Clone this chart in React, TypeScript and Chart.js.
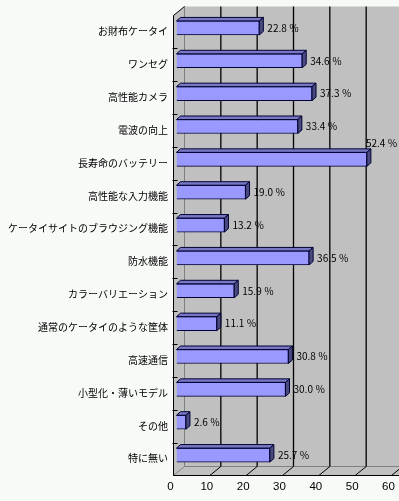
import React, { useEffect, useRef } from "react";
import { Chart, registerables } from "chart.js";

Chart.register(...registerables);

const categories = [
  "お財布ケータイ",
  "ワンセグ",
  "高性能カメラ",
  "電波の向上",
  "長寿命のバッテリー",
  "高性能な入力機能",
  "ケータイサイトのブラウジング機能",
  "防水機能",
  "カラーバリエーション",
  "通常のケータイのような筐体",
  "高速通信",
  "小型化・薄いモデル",
  "その他",
  "特に無い",
];
const values = [22.8, 34.6, 37.3, 33.4, 52.4, 19.0, 13.2, 36.5, 15.9, 11.1, 30.8, 30.0, 2.6, 25.7];
const xTicks = [0, 10, 20, 30, 40, 50, 60];

const BG = "#F7FAF7";
const WALL = "#C0C0C0";
const FRONT = { x: -3, y: 4 };
const BACK = { x: 8, y: -5 };
const BAR_D = { x: 4, y: -3.5 };
const LABEL_FONT = '10px "Noto Sans CJK JP", "Noto Sans", sans-serif';

const excel3d = {
  id: "excel3d",
  beforeDraw(chart: any) {
    const { ctx } = chart;
    ctx.save();
    ctx.fillStyle = BG;
    ctx.fillRect(0, 0, chart.width, chart.height);
    ctx.restore();
  },
  beforeDatasetsDraw(chart: any) {
    const { ctx, chartArea: ca, scales } = chart;
    const xs = scales.x;
    const R = chart.width + 2;
    const x0 = xs.getPixelForValue(0);
    const fx0 = x0 + FRONT.x, fTop = ca.top + FRONT.y, fBot = ca.bottom + FRONT.y;
    const bx0 = x0 + BACK.x, bTop = ca.top + BACK.y, bBot = ca.bottom + BACK.y;
    ctx.save();
    // back wall
    ctx.fillStyle = WALL;
    ctx.fillRect(bx0, bTop, R - bx0, bBot - bTop);
    // left wall
    ctx.beginPath();
    ctx.moveTo(fx0, fTop);
    ctx.lineTo(bx0, bTop);
    ctx.lineTo(bx0, bBot);
    ctx.lineTo(fx0, fBot);
    ctx.closePath();
    ctx.fill();
    // floor
    ctx.beginPath();
    ctx.moveTo(fx0, fBot);
    ctx.lineTo(R, fBot);
    ctx.lineTo(R, bBot);
    ctx.lineTo(bx0, bBot);
    ctx.closePath();
    ctx.fill();

    // inner edges
    ctx.strokeStyle = "#808080";
    ctx.lineWidth = 1;
    ctx.beginPath();
    ctx.moveTo(bx0, bTop);
    ctx.lineTo(bx0, bBot);
    ctx.lineTo(R, bBot);
    ctx.moveTo(bx0, bBot);
    ctx.lineTo(fx0, fBot);
    ctx.stroke();

    // gridlines on back wall and floor
    ctx.strokeStyle = "#000000";
    ctx.lineWidth = 1.3;
    xTicks.forEach((v) => {
      if (v === 0) return;
      const px = xs.getPixelForValue(v);
      ctx.beginPath();
      ctx.moveTo(px + BACK.x, bTop);
      ctx.lineTo(px + BACK.x, bBot);
      ctx.stroke();
    });
    ctx.lineWidth = 1;
    xTicks.forEach((v) => {
      if (v === 0) return;
      const px = xs.getPixelForValue(v);
      ctx.beginPath();
      ctx.moveTo(px + FRONT.x - 2, fBot);
      ctx.lineTo(px + FRONT.x, fBot);
      ctx.lineTo(px + BACK.x, bBot);
      ctx.stroke();
    });

    // outer edges
    ctx.strokeStyle = "#000000";
    ctx.beginPath();
    ctx.moveTo(bx0, bTop);
    ctx.lineTo(fx0, fTop);
    ctx.lineTo(fx0, fBot);
    ctx.lineTo(R, fBot);
    ctx.stroke();

    // category ticks on the left wall edge
    const n = categories.length;
    const band = (ca.bottom - ca.top) / n;
    ctx.beginPath();
    for (let i = 1; i < n; i++) {
      const y = Math.round(ca.top + band * i + FRONT.y) + 0.5;
      ctx.moveTo(fx0 - 1, y);
      ctx.lineTo(fx0 + 4, y);
    }
    ctx.stroke();
    ctx.restore();
  },
  afterDatasetsDraw(chart: any) {
    const { ctx } = chart;
    const meta = chart.getDatasetMeta(0);
    ctx.save();
    ctx.lineWidth = 1;
    ctx.strokeStyle = "#000033";
    meta.data.forEach((el: any, i: number) => {
      const p = el.getProps(["x", "y", "base", "height"], true);
      const left = Math.min(p.base, p.x);
      const right = Math.max(p.base, p.x);
      const top = p.y - p.height / 2;
      const bottom = p.y + p.height / 2;
      // top face
      ctx.fillStyle = "#7777C4";
      ctx.beginPath();
      ctx.moveTo(left, top);
      ctx.lineTo(right, top);
      ctx.lineTo(right + BAR_D.x, top + BAR_D.y);
      ctx.lineTo(left + BAR_D.x, top + BAR_D.y);
      ctx.closePath();
      ctx.fill();
      ctx.stroke();
      // side face
      ctx.fillStyle = "#4A4A80";
      ctx.beginPath();
      ctx.moveTo(right, top);
      ctx.lineTo(right + BAR_D.x, top + BAR_D.y);
      ctx.lineTo(right + BAR_D.x, bottom + BAR_D.y);
      ctx.lineTo(right, bottom);
      ctx.closePath();
      ctx.fill();
      ctx.stroke();

      // value label
      const text = values[i].toFixed(1) + " ％";
      ctx.font = LABEL_FONT;
      ctx.fillStyle = "#000000";
      ctx.textBaseline = "middle";
      ctx.textAlign = "left";
      const w = ctx.measureText(text).width;
      let lx = right + BAR_D.x + 4;
      let ly = p.y;
      if (lx + w > chart.width - 1) {
        lx = right - 1;
        ly = top + BAR_D.y - 6;
      }
      ctx.fillText(text, lx, ly);
    });
    ctx.restore();
  },
};

export default function App() {
  const ref = useRef<HTMLCanvasElement | null>(null);
  useEffect(() => {
    document.body.style.margin = "0";
    document.body.style.background = BG;
    const canvas = ref.current;
    if (!canvas) return;
    const chart = new Chart(canvas, {
      type: "bar",
      data: {
        labels: categories,
        datasets: [
          {
            data: values,
            backgroundColor: "#9999FF",
            borderColor: "#000033",
            borderWidth: 1,
            barThickness: 14,
          },
        ],
      },
      options: {
        indexAxis: "y",
        responsive: false,
        devicePixelRatio: 1,
        animation: false,
        layout: { padding: { top: 11.5, right: 4.5, bottom: 0, left: 0 } },
        plugins: {
          legend: { display: false },
          tooltip: { enabled: false },
        },
        scales: {
          x: {
            type: "linear",
            min: 0,
            max: 60,
            grid: { display: false, drawTicks: false, tickLength: 0 },
            border: { display: false },
            ticks: {
              stepSize: 10,
              padding: 8.5,
              labelOffset: -6,
              maxRotation: 0,
              minRotation: 0,
              color: "#000000",
              font: { family: '"Liberation Sans", sans-serif', size: 11.5 },
            },
            afterFit: (s: any) => {
              s.height = 29.5;
              s.paddingLeft = 0;
              s.paddingRight = 0;
            },
          },
          y: {
            type: "category",
            grid: { display: false, drawTicks: false, tickLength: 0 },
            border: { display: false },
            ticks: {
              padding: 8.5,
              labelOffset: 3.5,
              autoSkip: false,
              color: "#000000",
              font: { family: '"Noto Sans CJK JP", sans-serif', size: 10 },
            },
            afterFit: (s: any) => {
              s.width = 176.5;
              s.paddingTop = 0;
              s.paddingBottom = 0;
            },
          },
        },
      },
      plugins: [excel3d],
    });
    return () => chart.destroy();
  }, []);
  return (
    <div style={{ width: 399, height: 501 }}>
      <canvas ref={ref} width={399} height={501} style={{ display: "block" }} />
    </div>
  );
}
